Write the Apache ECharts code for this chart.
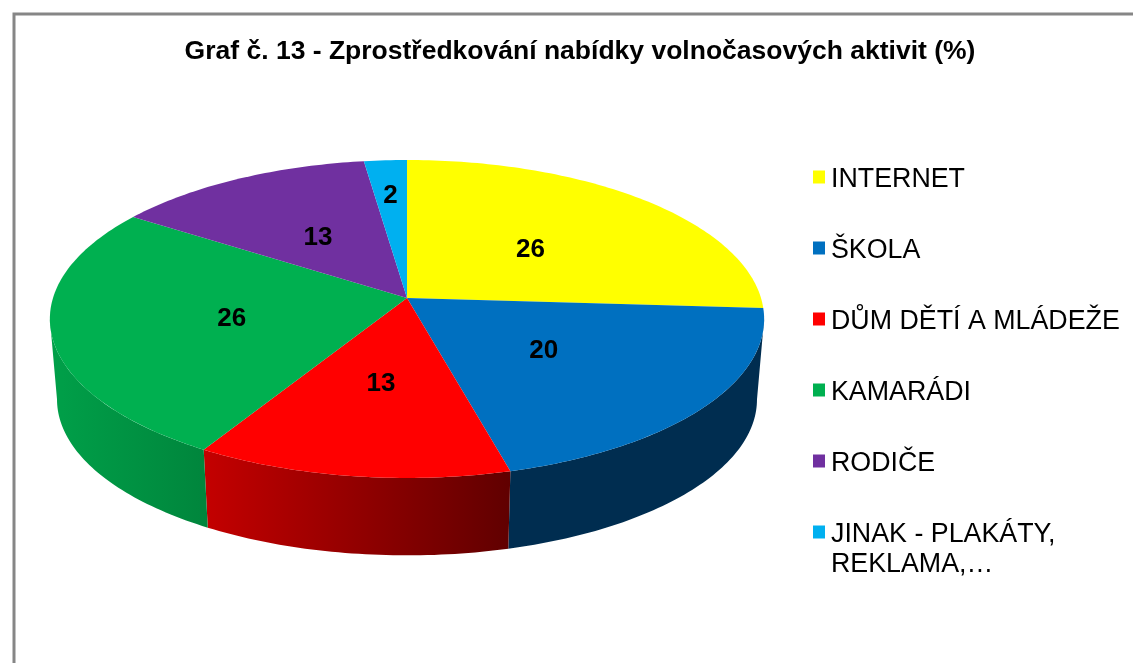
<!DOCTYPE html>
<html>
<head>
<meta charset="utf-8">
<style>html,body{margin:0;padding:0;background:#fff}#c{width:1133px;height:663px}</style>
<script src="https://cdn.jsdelivr.net/npm/echarts@6/dist/echarts.min.js"></script>
</head>
<body>
<div id="c"></div>
<script>
var titleText = 'Graf č. 13 - Zprostředkování nabídky volnočasových aktivit (%)';
var categories = ['INTERNET', 'ŠKOLA', 'DŮM DĚTÍ A MLÁDEŽE', 'KAMARÁDI', 'RODIČE', 'JINAK - PLAKÁTY, REKLAMA,…'];
var values = [26, 19.9, 12.6, 25.9, 13.4, 2.2];
var topColors = ['#FFFF00', '#0070C0', '#FF0000', '#00B050', '#7030A0', '#00B0F0'];
var sideFrom = ['#8a8a00', '#002D50', '#C40000', '#00A049', '#3a1a55', '#005c80'];
var sideTo = ['#8a8a00', '#002D50', '#600000', '#00853C', '#3a1a55', '#005c80'];
var labelRadii = [0.5, 0.48, 0.5, 0.5, 0.5, 0.74];

// perspective layout of the pie disc
var APEX_X = 407, APEX_Y = 298, KX = 354, KY = 156.2, PERSP = -0.132;
var DEPTH = 81, BOTTOM_SCALE = 0.98, LABEL_DY = 3;
var VIS_FROM = 97.6, VIS_TO = 262.4;
// square swatch sitting in the upper part of its legend cell
var LEGEND_ICON = 'path://M0 0H12V13H0ZM0 19L0 19';

var total = values.reduce(function (a, b) { return a + b; }, 0);

function project(deg, r, scale, dy) {
  var a = deg * Math.PI / 180;
  var u = Math.sin(a) * r, v = -Math.cos(a) * r;
  var d = 1 + PERSP * v;
  return [APEX_X + scale * KX * u / d, APEX_Y + dy + scale * KY * v / d];
}
function arc(from, to, scale, dy) {
  var pts = [], n = Math.max(2, Math.ceil(Math.abs(to - from)));
  for (var i = 0; i <= n; i++) pts.push(project(from + (to - from) * i / n, 1, scale, dy));
  return pts;
}

function makeSeries(idx) {
  var before = 0;
  for (var j = 0; j < idx; j++) before += values[j];
  return {
    type: 'custom',
    name: categories[idx],
    coordinateSystem: 'none',
    silent: true,
    animation: false,
    z: 2,
    itemStyle: { color: topColors[idx] },
    data: [values[idx]],
    renderItem: function (params, api) {
      var val = api.value(0);
      var start = before / total * 360, end = (before + val) / total * 360;
      var children = [];
      var sFrom = Math.max(start, VIS_FROM), sTo = Math.min(end, VIS_TO);
      if (sTo > sFrom) {
        var upper = arc(sFrom, sTo, 1, 0);
        var lower = arc(sFrom, sTo, BOTTOM_SCALE, DEPTH).reverse();
        children.push({
          type: 'polygon',
          z2: 1,
          shape: { points: upper.concat(lower) },
          style: {
            fill: { type: 'linear', x: 0, y: 0, x2: 1, y2: 0, colorStops: [
              { offset: 0, color: sideFrom[idx] }, { offset: 1, color: sideTo[idx] }] }
          }
        });
      }
      children.push({
        type: 'polygon',
        z2: 2,
        shape: { points: [[APEX_X, APEX_Y]].concat(arc(start, end, 1, 0)) },
        style: { fill: topColors[idx] }
      });
      var lp = project((start + end) / 2, labelRadii[idx], 1, 0);
      children.push({
        type: 'text',
        z2: 3,
        x: lp[0], y: lp[1] + LABEL_DY,
        style: {
          text: String(Math.round(val)),
          fill: '#000',
          font: 'bold 26px "Liberation Sans", Arial, sans-serif',
          textAlign: 'center',
          textVerticalAlign: 'middle'
        }
      });
      return { type: 'group', children: children };
    }
  };
}

var legendText = { fontFamily: '"Liberation Sans", Arial, sans-serif', fontSize: 26.8, lineHeight: 30, color: '#000', padding: [0, 0, 0, 1] };
var option = {
  backgroundColor: '#fff',
  animation: false,
  title: {
    text: titleText,
    left: 575, top: 33,
    textAlign: 'center',
    textStyle: { fontFamily: '"Liberation Sans", Arial, sans-serif', fontWeight: 'bold', fontSize: 26.5, color: '#000' }
  },
  legend: [{
    orient: 'vertical', left: 813, top: 165, padding: 0,
    itemWidth: 12, itemHeight: 19, itemGap: 41, icon: LEGEND_ICON,
    selectedMode: false,
    data: categories.slice(0, 5),
    textStyle: legendText
  }, {
    orient: 'vertical', left: 813, top: 490, padding: 0,
    itemWidth: 12, itemHeight: 19, icon: LEGEND_ICON,
    selectedMode: false,
    data: categories.slice(5),
    formatter: function (name) { return '\n' + name.replace(', ', ',\n'); },
    textStyle: legendText
  }],
  graphic: [{
    type: 'polyline',
    silent: true,
    shape: { points: [[14, 663], [14, 14], [1133, 14]] },
    style: { stroke: '#868686', lineWidth: 3, fill: null }
  }],
  series: categories.map(function (c, i) { return makeSeries(i); })
};
echarts.init(document.getElementById('c'), null, { renderer: 'canvas' }).setOption(option);
</script>
</body>
</html>
